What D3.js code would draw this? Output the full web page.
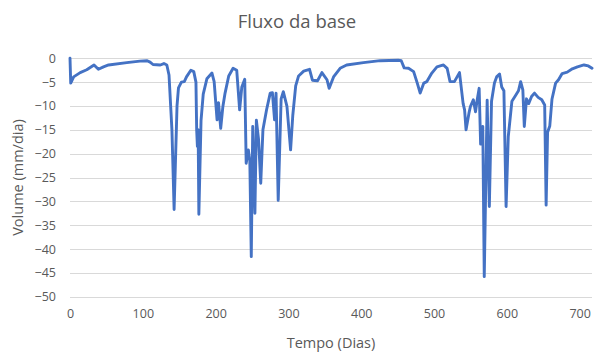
<!DOCTYPE html>
<html>
<head>
<meta charset="utf-8">
<script src="https://cdn.jsdelivr.net/npm/d3@7"></script>
<style>
  html, body { margin: 0; padding: 0; background: #fff; }
  svg { display: block; font-family: "Open Sans", "Noto Sans", sans-serif; }
</style>
</head>
<body>
<svg id="chart" width="595" height="352"></svg>
<script>
// Baseflow series: day and daily volume (mm/dia)
const days = [0, 1, 5, 14, 23, 33, 39, 46, 53, 78, 96, 106, 110, 114, 124, 129, 133, 136, 140, 141,
  143, 147, 149, 153, 157, 160, 166, 170, 173, 174, 175, 176, 177, 180, 183, 188, 195, 198, 202, 204,
  207, 210, 213, 218, 224, 229, 233, 236, 240, 242, 245, 247, 249, 251, 254, 256, 259, 262, 265, 270,
  275, 278, 281, 283, 286, 290, 293, 298, 303, 306, 310, 314, 321, 329, 333, 340, 346, 353, 356, 362,
  371, 380, 403, 426, 451, 455, 459, 465, 472, 477, 481, 486, 490, 497, 504, 513, 518, 522, 528, 535,
  540, 542, 544, 548, 550, 554, 557, 559, 562, 564, 567, 569, 573, 576, 579, 583, 586, 590, 593, 596,
  599, 602, 607, 612, 616, 619, 622, 624, 627, 630, 634, 638, 643, 648, 652, 654, 656, 659, 662, 667,
  671, 676, 683, 690, 697, 706, 712, 717];
const volume = [0, -5.2, -3.9, -3.0, -2.4, -1.4, -2.3, -1.8, -1.4, -0.9, -0.6, -0.5, -0.8, -1.3, -1.4, -1.1, -1.4, -3.5, -15, -20.5,
  -31.7, -10, -6.2, -5.0, -4.9, -3.9, -2.5, -2.8, -5, -15, -18.5, -15, -32.7, -13, -7.5, -4.3, -3.1, -4.9, -12.9, -9.3,
  -14.7, -10.1, -7.3, -3.7, -2.1, -2.5, -10.8, -6, -4.4, -22, -19.2, -21.5, -41.6, -14.3, -32.5, -13, -17, -26.2, -15, -10.8,
  -7.3, -7.2, -12.9, -7.3, -29.8, -8.5, -7, -10.1, -19.2, -12, -5.8, -3.7, -2.7, -2.3, -4.6, -4.7, -3.0, -4.5, -6.3, -3.9,
  -2.1, -1.4, -0.9, -0.5, -0.4, -0.5, -2.0, -2.1, -2.8, -5.2, -7.3, -5.2, -4.9, -3.1, -1.8, -1.4, -2.1, -4.9, -4.9, -3.0,
  -9.5, -10.8, -15, -11.5, -10.1, -8.7, -11.2, -9, -6.3, -18, -14.3, -45.8, -8.8, -31.1, -9, -5.2, -3.9, -3.3, -6, -6.8,
  -31.1, -16.4, -9, -7.8, -6.8, -4.9, -6.6, -14.3, -8.5, -9.5, -8, -7.3, -8.2, -8.7, -9.8, -30.8, -15.5, -14.2, -8.6, -5.2,
  -4.5, -3.2, -2.9, -2.2, -1.8, -1.4, -1.6, -2.1];

const xTicks = [0, 100, 200, 300, 400, 500, 600, 700];
const yTicks = [0, -5, -10, -15, -20, -25, -30, -35, -40, -45, -50];
const xMax = 717;

const titleText = "Fluxo da base";
const xTitle = "Tempo (Dias)";
const yTitle = "Volume (mm/dia)";

const svg = d3.select("#chart");
const plot = { left: 70, right: 592, top: 58.3, bottom: 296.7 };

const x = d3.scaleLinear().domain([0, xMax]).range([plot.left, plot.right]);
const y = d3.scaleLinear().domain([0, -50]).range([plot.top, plot.bottom]);

const textColor = "#595959";

// Title
svg.append("text")
  .attr("x", 297).attr("y", 28)
  .attr("text-anchor", "middle")
  .attr("font-size", 18.5)
  .attr("fill", textColor)
  .text(titleText);

// Horizontal gridlines
svg.append("g")
  .selectAll("line")
  .data(yTicks)
  .join("line")
  .attr("x1", plot.left).attr("x2", plot.right)
  .attr("y1", d => Math.round(y(d)) + 0.5).attr("y2", d => Math.round(y(d)) + 0.5)
  .attr("stroke", "#d9d9d9")
  .attr("stroke-width", 1);

// Y axis labels
const yAxis = d3.axisLeft(y).tickValues(yTicks).tickSize(0).tickPadding(0);
const gy = svg.append("g").attr("transform", `translate(${plot.left - 14},0)`).call(yAxis);
gy.select(".domain").remove();
gy.selectAll("text").attr("fill", textColor).attr("font-size", 12.5).attr("font-family", "Open Sans");

// X axis labels
const xAxis = d3.axisBottom(x).tickValues(xTicks).tickSize(0).tickPadding(0).tickFormat(d3.format("d"));
const gx = svg.append("g").attr("transform", `translate(0,${plot.bottom + 12})`).call(xAxis);
gx.select(".domain").remove();
gx.selectAll("text").attr("fill", textColor).attr("font-size", 12.5).attr("font-family", "Open Sans");

// Axis titles
svg.append("text")
  .attr("x", (plot.left + plot.right) / 2).attr("y", 348)
  .attr("text-anchor", "middle")
  .attr("font-size", 14.5)
  .attr("fill", textColor)
  .text(xTitle);

svg.append("text")
  .attr("transform", `translate(23,${(plot.top + plot.bottom) / 2}) rotate(-90)`)
  .attr("text-anchor", "middle")
  .attr("font-size", 14.5)
  .attr("fill", textColor)
  .text(yTitle);

// Baseflow line
const series = days.map((d, i) => ({ day: d, v: volume[i] }));
const line = d3.line().x(d => x(d.day)).y(d => y(d.v));
svg.append("path")
  .datum(series)
  .attr("d", line)
  .attr("fill", "none")
  .attr("stroke", "#4472c4")
  .attr("stroke-width", 2.9)
  .attr("stroke-linejoin", "round")
  .attr("stroke-linecap", "round");
</script>
</body>
</html>
